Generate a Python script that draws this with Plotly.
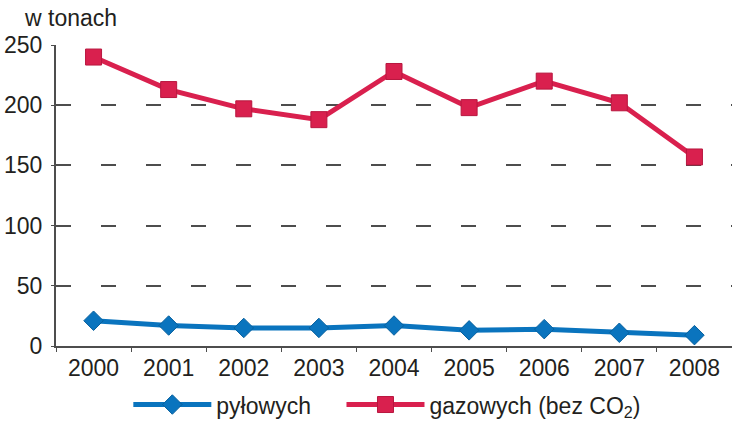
import plotly.graph_objects as go

# lata i emisje zanieczyszczen (w tonach)
lata = ['2000', '2001', '2002', '2003', '2004', '2005', '2006', '2007', '2008']
pylowe = [21, 17, 15, 15, 17, 13, 14, 11, 9]
gazowe = [240, 213, 197, 188, 228, 198, 220, 202, 157]
y_ticks = [0, 50, 100, 150, 200, 250]

font = 'Liberation Sans, Arial, sans-serif'

fig = go.Figure()
fig.add_trace(go.Scatter(x=lata, y=pylowe, name='pyłowych\u00a0\u00a0\u00a0\u00a0', mode='lines+markers',
                         line=dict(color='#0a74be', width=5),
                         marker=dict(symbol='diamond', size=15, color='#0a74be',
                                     line=dict(color='#07609e', width=1)),
                         cliponaxis=False))
fig.add_trace(go.Scatter(x=lata, y=gazowe, name='gazowych (bez CO<sub>2</sub>)', mode='lines+markers',
                         line=dict(color='#d9204e', width=5),
                         marker=dict(symbol='square', size=16, color='#d9204e',
                                     line=dict(color='#b8173f', width=1)),
                         cliponaxis=False))

fig.update_layout(
    width=732, height=426,
    margin=dict(l=56, r=0, t=45, b=80, autoexpand=False),
    paper_bgcolor='white', plot_bgcolor='white',
    font=dict(family=font, size=23, color='#231f20'),
    showlegend=True,
    legend=dict(orientation='h', x=0.107, xanchor='left', y=-0.266, yanchor='bottom',
                itemwidth=78, font=dict(size=23), traceorder='normal',
                bgcolor='rgba(0,0,0,0)'),
    annotations=[dict(text='w tonach', xref='paper', yref='paper', x=-0.05, y=1.09,
                      xanchor='left', yanchor='middle', showarrow=False,
                      font=dict(size=23))],
)
fig.update_xaxes(type='category', range=[-0.5, 8.5], showgrid=False,
                 showline=True, linecolor='#4d4d4d', linewidth=2,
                 ticks='outside', tickson='boundaries', ticklen=4, tickcolor='#4d4d4d',
                 tickfont=dict(size=23))
fig.update_yaxes(range=[0, 250], tickvals=y_ticks, showgrid=True,
                 gridcolor='#4d4d4d', gridwidth=2, griddash='15px,30px',
                 showline=True, linecolor='#4d4d4d', linewidth=2,
                 zeroline=False, ticks='outside', ticklen=3, tickcolor='#4d4d4d',
                 tickfont=dict(size=23), ticklabelstandoff=4)

fig.write_html("out.html", config={'displayModeBar': False},
               post_script="document.body.style.margin='0';")
